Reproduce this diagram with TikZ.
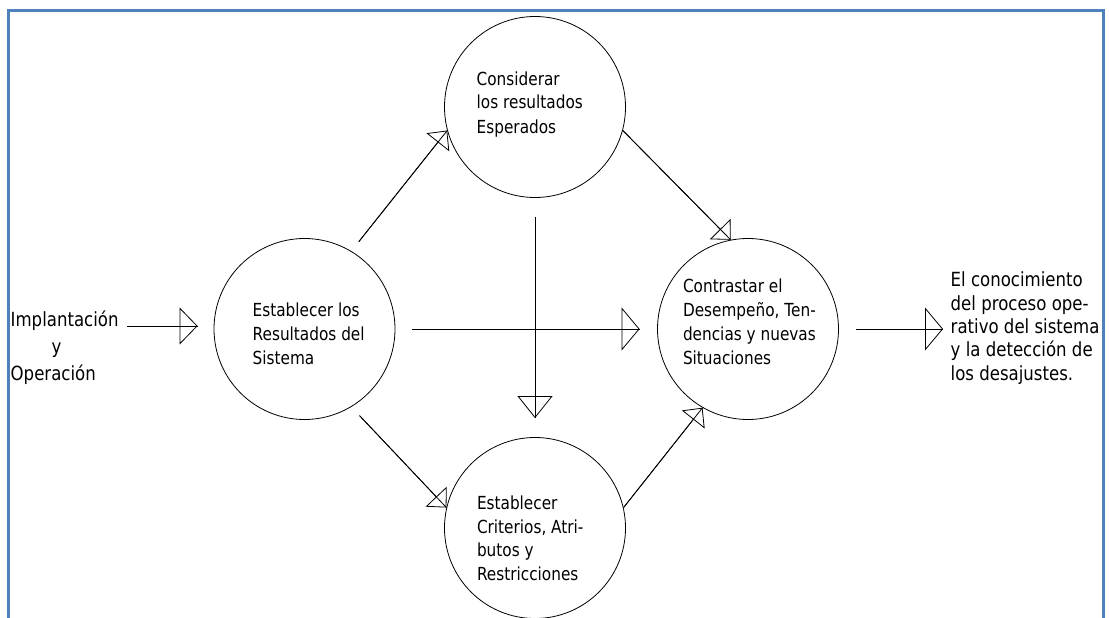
\documentclass[tikz,border=0pt]{standalone}
\usepackage{fontspec}
\setmainfont{DejaVu Sans}[FakeStretch=0.85]
\usetikzlibrary{arrows.meta}
\definecolor{framecol}{RGB}{79,129,189}
\begin{document}
\begin{tikzpicture}[x=1pt,y=-1pt,
  stage/.style={circle,draw,line width=0.8pt,minimum size=181pt,inner sep=0pt},
  stagetext/.style={anchor=base west,inner sep=0pt,align=left,font=\fontsize{18}{24}\selectfont},
  sidetext/.style={anchor=base west,inner sep=0pt,align=left},
  conn/.style={draw,line width=0.8pt},
  tipH/.style={postaction={draw,line width=0.8pt,-{Triangle[open,length=18pt,width=43pt]}}},
  tipIn/.style={postaction={draw,line width=0.8pt,-{Triangle[open,length=18pt,width=37pt]}}},
  tipV/.style={postaction={draw,line width=0.8pt,-{Triangle[open,length=22pt,width=35pt]}}},
  tipD/.style={postaction={draw,line width=0.8pt,-{Triangle[open,length=15pt,width=29pt]}}},
]
\useasboundingbox (0,0) rectangle (1109,618);

% open-bottom frame
\draw[framecol,line width=3pt] (8.5,625) -- (8.5,10.5) -- (1103.5,10.5) -- (1103.5,625);

% process stages
\node[stage] (L) at (304.5,329) {};
\node[stage] (T) at (535,107) {};
\node[stage] (B) at (535,528) {};
\node[stage] (R) at (748,329) {};

% texts are placed by the baseline of their last line
\node[stagetext] (Ltx) at (252.5,364.5) {Establecer los\\Resultados del\\Sistema};
\node[stagetext] (Ttx) at (476.5,133) {Considerar\\los resultados\\Esperados};
\node[stagetext,font=\fontsize{18}{23.5}\selectfont] (Btx) at (476.8,580) {Establecer\\Criterios, Atri-\\butos y\\Restricciones};
\node[stagetext] (Rtx) at (682.8,364.7) {Contrastar el\\Desempeño, Ten-\\dencias y nuevas\\Situaciones};

% input and output texts
\node[sidetext,font=\fontsize{19.5}{26.7}\selectfont] (IO) at (10.5,380) {Implantación\\\hspace*{41pt}y\\Operación};
\node[sidetext,font=\fontsize{19.5}{23.3}\selectfont] (Out) at (950.5,380) {El conocimiento\\del proceso ope-\\rativo del sistema\\y la detección de\\los desajustes.};

\coordinate (inS) at (127,326);
\coordinate (outE) at (943,329);

% connectors
\draw[conn,tipIn,shorten >=16pt] (inS) -- (L.west |- inS);
\draw[conn,tipH,shorten <=17pt,shorten >=17.5pt] (L.east) -- (R.west);
\draw[conn,tipV,shorten <=19pt,shorten >=19pt] (T.south) -- (B.north);
\draw[conn,tipD,shorten <=12pt] (L.59) -- (T.195);
\draw[conn,tipD,shorten <=12pt] (L.301) -- (B.167);
\draw[conn,tipD] (T.345) -- (R.101);
\draw[conn,tipD] (B.13) -- (R.240);
\draw[conn,tipH,shorten <=17pt] (R.east) -- (outE);
\end{tikzpicture}
\end{document}
